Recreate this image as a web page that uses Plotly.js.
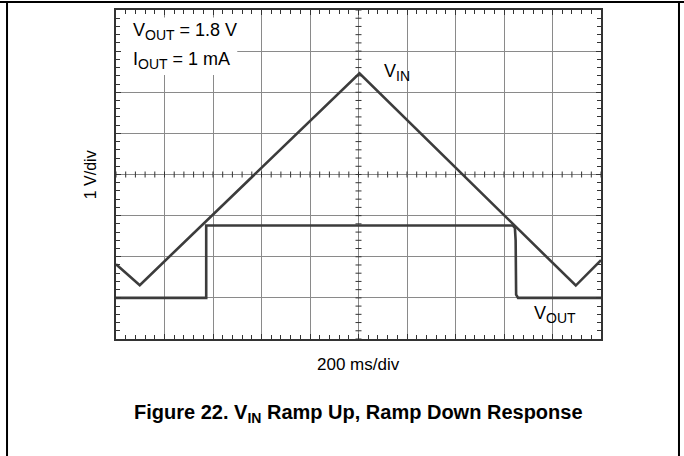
<!DOCTYPE html>
<html>
<head>
<meta charset="utf-8">
<script src="https://cdn.plot.ly/plotly-3.0.1.min.js"></script>
<style>html,body{margin:0;padding:0;background:#fff;}#chart{width:684px;height:456px;}</style>
</head>
<body>
<div id="chart"></div>
<script>
// Time axis in ms (200 ms/div), voltage in divisions (1 V/div)
const vinTime = [0, 98, 1004, 1896, 2000];
const vinVolt = [1.82, 1.31, 6.46, 1.30, 1.92];

const voutTime = [0, 372, 372, 1636, 1645, 1648, 1650, 1658, 2000];
const voutVolt = [1.0, 1.0, 2.76, 2.76, 2.70, 2.40, 1.08, 1.0, 1.0];

const xRange = [0, 2000];
const yRange = [0, 8];
const xDiv = 200, yDiv = 1;

const traceColor = '#3c3c3c';
const font = 'Liberation Sans, Arial, Helvetica, sans-serif';

const traces = [
  {x: vinTime, y: vinVolt, mode: 'lines', line: {color: traceColor, width: 2.6}, hoverinfo: 'skip', showlegend: false},
  {x: voutTime, y: voutVolt, mode: 'lines', line: {color: traceColor, width: 2.6}, hoverinfo: 'skip', showlegend: false}
];

const shapes = [];
// white box behind the condition text
shapes.push({type: 'rect', xref: 'x', yref: 'y', x0: 0, x1: 500, y0: 6.42, y1: 7.82,
  fillcolor: '#ffffff', line: {width: 0}, layer: 'between'});
// centre-line minor ticks
const cx = (xRange[0] + xRange[1]) / 2, cy = (yRange[0] + yRange[1]) / 2;
for (let t = xRange[0]; t <= xRange[1] + 1e-9; t += xDiv / 5) {
  shapes.push({type: 'line', xref: 'x', yref: 'y', ysizemode: 'pixel', yanchor: cy,
    x0: t, x1: t, y0: -3, y1: 3, line: {color: '#333', width: 1}});
}
for (let v = yRange[0]; v <= yRange[1] + 1e-9; v += yDiv / 5) {
  shapes.push({type: 'line', xref: 'x', yref: 'y', xsizemode: 'pixel', xanchor: cx,
    x0: -3, x1: 3, y0: v, y1: v, line: {color: '#333', width: 1}});
}
// outer figure frame
shapes.push({type: 'line', xref: 'paper', yref: 'paper', x0: -0.3, x1: 1.3, y0: 1.0243, y1: 1.0243, line: {color: '#000', width: 2}});
shapes.push({type: 'line', xref: 'paper', yref: 'paper', x0: -0.2247, x1: -0.2247, y0: -0.5, y1: 1.0243, line: {color: '#000', width: 2}});
shapes.push({type: 'line', xref: 'paper', yref: 'paper', x0: 1.1608, x1: 1.1608, y0: -0.5, y1: 1.0243, line: {color: '#000', width: 2}});

const axisCommon = {
  showgrid: true, gridcolor: '#8a8a8a', gridwidth: 1,
  zeroline: false, showticklabels: false,
  showline: true, linecolor: '#333', linewidth: 2, mirror: 'allticks',
  ticks: 'inside', ticklen: 5, tickcolor: '#333', tickwidth: 1,
  fixedrange: true
};

const sub = s => '<sub><span style="font-size:14px">' + s + '</span></sub>';

const layout = {
  width: 684, height: 456,
  margin: {l: 116, r: 83, t: 10, b: 117},
  paper_bgcolor: '#fff', plot_bgcolor: '#fff',
  font: {family: font, color: '#000'},
  xaxis: Object.assign({}, axisCommon, {range: xRange, dtick: xDiv, tick0: 0,
    minor: {dtick: xDiv / 5, ticks: 'inside', ticklen: 4, tickcolor: '#333', tickwidth: 1, showgrid: false}}),
  yaxis: Object.assign({}, axisCommon, {range: yRange, dtick: yDiv, tick0: 0,
    minor: {dtick: yDiv / 5, ticks: 'inside', ticklen: 4, tickcolor: '#333', tickwidth: 1, showgrid: false}}),
  shapes: shapes,
  annotations: [
    {text: 'V' + sub('OUT') + ' = 1.8 V', xref: 'paper', yref: 'paper', x: 0.031, y: 0.935, xanchor: 'left', yanchor: 'middle', showarrow: false, font: {size: 18, family: font}},
    {text: 'I' + sub('OUT') + ' = 1 mA', xref: 'paper', yref: 'paper', x: 0.031, y: 0.845, xanchor: 'left', yanchor: 'middle', showarrow: false, font: {size: 18, family: font}},
    {text: 'V' + sub('IN'), xref: 'paper', yref: 'paper', x: 0.548, y: 0.81, xanchor: 'left', yanchor: 'middle', showarrow: false, font: {size: 18, family: font}},
    {text: 'V' + sub('OUT'), xref: 'paper', yref: 'paper', x: 0.857, y: 0.075, xanchor: 'left', yanchor: 'middle', showarrow: false, font: {size: 18, family: font}},
    {text: '1 V/div', xref: 'paper', yref: 'paper', x: -0.052, y: 0.5, xanchor: 'center', yanchor: 'middle', textangle: -90, showarrow: false, font: {size: 16, family: font}},
    {text: '200 ms/div', xref: 'paper', yref: 'paper', x: 0.5, y: -0.076, xanchor: 'center', yanchor: 'middle', showarrow: false, font: {size: 17, family: font}},
    {text: '<b>Figure 22. V<sub>IN</sub> Ramp Up, Ramp Down Response</b>', xref: 'paper', yref: 'paper', x: 0.5, y: -0.225, xanchor: 'center', yanchor: 'middle', showarrow: false, font: {size: 20, family: font}}
  ]
};

Plotly.newPlot('chart', traces, layout, {staticPlot: true, displayModeBar: false});
</script>
</body>
</html>
